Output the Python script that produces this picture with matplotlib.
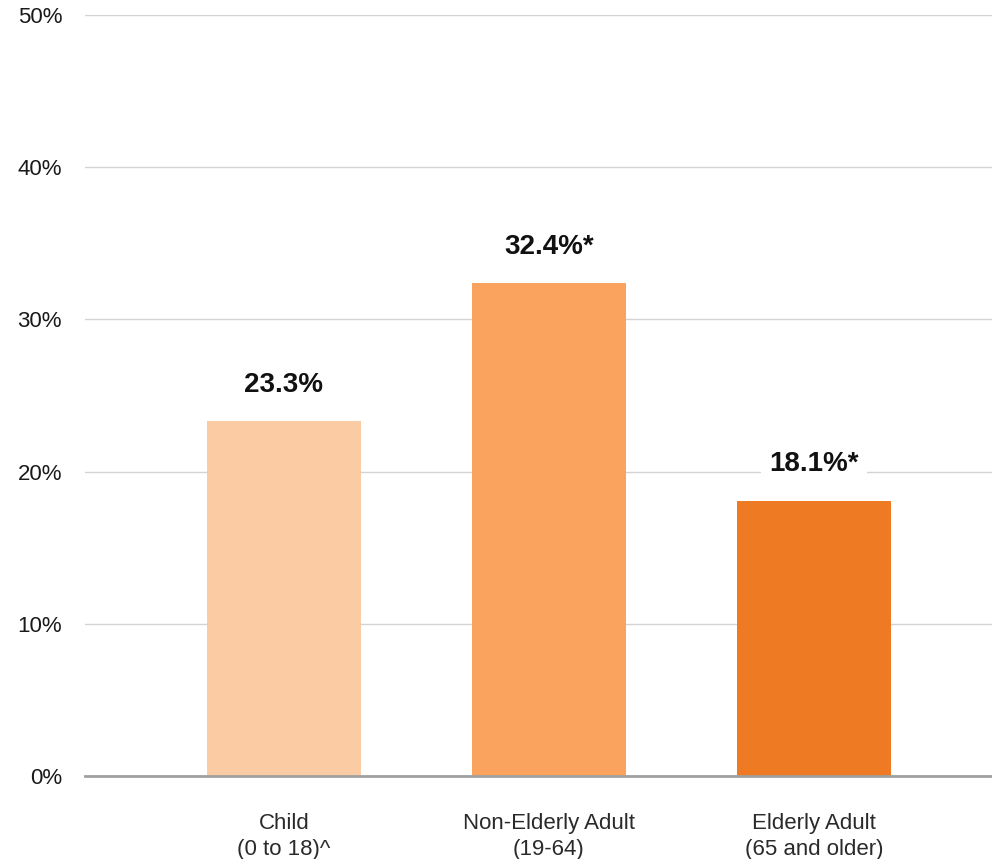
import matplotlib
matplotlib.use("Agg")
import matplotlib.pyplot as plt
from matplotlib.font_manager import findfont, FontProperties

# Age groups and rates
categories = ["Child\n(0 to 18)^", "Non-Elderly Adult\n(19-64)", "Elderly Adult\n(65 and older)"]
values = [23.3, 32.4, 18.1]
value_labels = ["23.3%", "32.4%*", "18.1%*"]
bar_colors = ["#FBCBA4", "#F9A35E", "#EE7B24"]
y_ticks = [0, 10, 20, 30, 40, 50]

# narrow bold face for the value labels, if available
label_family = ["Liberation Sans Narrow", "DejaVu Sans"]
try:
    findfont(FontProperties(family="Liberation Sans Narrow"), fallback_to_default=False)
except Exception:
    label_family = ["Liberation Sans", "DejaVu Sans"]

plt.rcParams["font.family"] = ["Liberation Sans", "DejaVu Sans"]

fig = plt.figure(figsize=(9.92, 8.59), dpi=100)
ax = fig.add_axes([85 / 992, 83 / 859, 907 / 992, 761 / 859])

x = list(range(len(categories)))
ax.bar(x, values, width=0.58, color=bar_colors, zorder=2)

for xi, v, lab in zip(x, values, value_labels):
    ax.annotate(lab, (xi, v), xytext=(0, 26), textcoords="offset points",
                ha="center", va="center", fontsize=20, fontweight="bold",
                family=label_family, color="#111111", zorder=4,
                bbox=dict(boxstyle="square,pad=0.3", fc="white", ec="none"))

ax.set_xlim(-0.751, 2.672)
ax.set_ylim(0, 50)
ax.set_yticks(y_ticks)
ax.set_yticklabels([f"{t}%" for t in y_ticks], fontsize=16, color="#1a1a1a")
ax.set_xticks(x)
ax.set_xticklabels(categories, fontsize=16, color="#2a2a2a", linespacing=1.35)

ax.tick_params(axis="y", length=0, pad=16.5)
ax.tick_params(axis="x", length=0, pad=26.5)

ax.grid(axis="y", color="#D3D3D3", linewidth=1, zorder=0)
ax.set_axisbelow(True)
for side in ["top", "right", "left"]:
    ax.spines[side].set_visible(False)
ax.spines["bottom"].set_color("#A0A0A0")
ax.spines["bottom"].set_linewidth(2)
ax.spines["bottom"].set_zorder(3)

fig.savefig("out.png", dpi=100, facecolor="white")
